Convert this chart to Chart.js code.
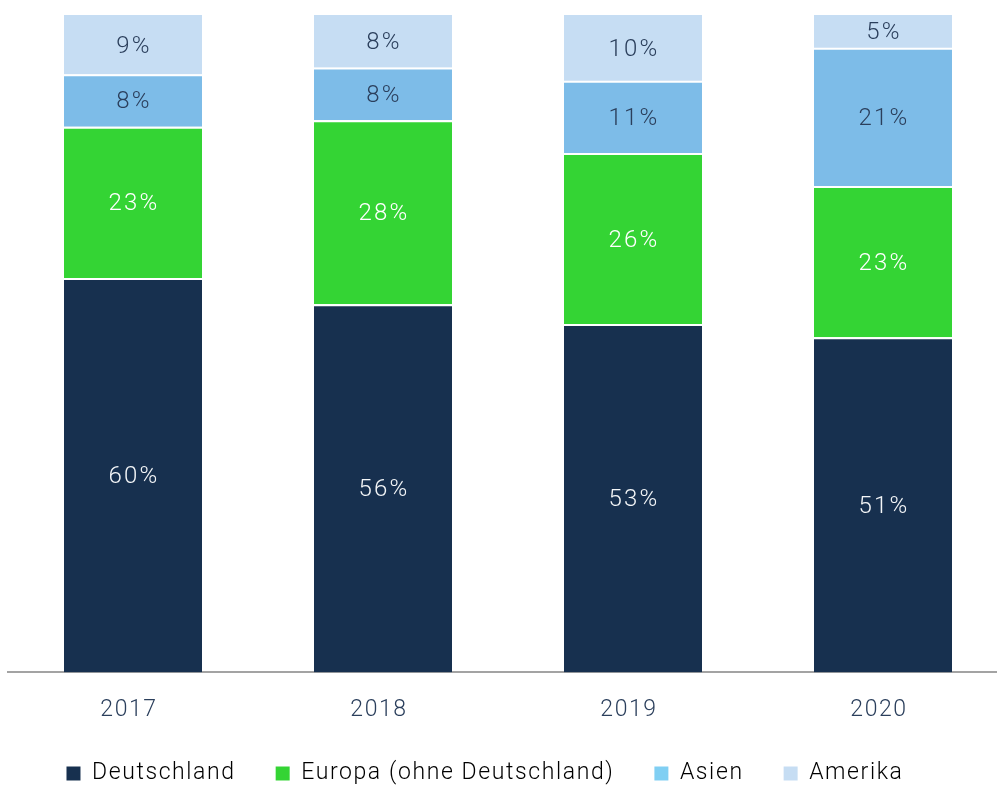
<!DOCTYPE html>
<html>
<head>
<meta charset="utf-8">
<script src="https://cdn.jsdelivr.net/npm/chart.js@4.4.1/dist/chart.umd.min.js"></script>
<style>
  html, body { margin: 0; padding: 0; background: #fff; overflow: hidden; }
  #wrap { width: 1008px; height: 785px; }
</style>
</head>
<body>
<div id="wrap"><canvas id="chart" width="1008" height="785"></canvas></div>
<script>
// data
const years = ['2017', '2018', '2019', '2020'];
const deutschland = [60, 56, 53, 51];
const europa = [23, 28, 26, 23];
const asien = [8, 8, 11, 21];
const amerika = [9, 8, 10, 5];

const seriesNames = ['Deutschland', 'Europa (ohne Deutschland)', 'Asien', 'Amerika'];
const barColors = ['#17304f', '#34d434', '#7dbce8', '#c6ddf3'];
const legendColors = ['#17304f', '#34d434', '#80cff3', '#c6ddf3'];
const labelColors = ['#f4f6f8', '#ffffff', '#2b3f5c', '#2b3f5c'];

const FONT = "Roboto, 'Liberation Sans', sans-serif";
const textColor = '#2b3f5c';
const SPACING = '1.6px';

// the reference type is a little tracked out
const tracking = {
    id: 'tracking',
    beforeUpdate(chart) { chart.ctx.letterSpacing = SPACING; },
    beforeDraw(chart) { chart.ctx.letterSpacing = SPACING; }
};

// draws the percent values inside each segment
const segmentLabels = {
    id: 'segmentLabels',
    afterDatasetsDraw(chart) {
        const ctx = chart.ctx;
        ctx.save();
        ctx.font = '300 24px ' + FONT;
        ctx.letterSpacing = '2.2px';
        ctx.textAlign = 'center';
        ctx.textBaseline = 'middle';
        chart.data.datasets.forEach((ds, i) => {
            const meta = chart.getDatasetMeta(i);
            ctx.fillStyle = labelColors[i];
            meta.data.forEach((bar, j) => {
                const mid = (bar.y + bar.base) / 2 + 2;
                ctx.fillText(ds.data[j] + '%', bar.x + 1, mid);
            });
        });
        ctx.restore();
    }
};

// move the legend to where the reference has it (bottom kept so nothing is clipped)
const legendShift = {
    id: 'legendShift',
    afterLayout(chart) {
        const lg = chart.legend;
        lg.left -= 23;
        lg.right -= 23;
        lg.top -= 26;
        lg.height = lg.bottom - lg.top;
    }
};

const allSeries = [deutschland, europa, asien, amerika];

new Chart(document.getElementById('chart'), {
    type: 'bar',
    data: {
        labels: years,
        datasets: allSeries.map((vals, i) => ({
            label: seriesNames[i],
            data: vals,
            backgroundColor: barColors[i],
            borderColor: '#ffffff',
            borderWidth: i === 3 ? 0 : { top: 2, bottom: 0, left: 0, right: 0 },
            borderSkipped: false,
            barPercentage: 0.552,
            categoryPercentage: 1
        }))
    },
    options: {
        responsive: false,
        animation: false,
        layout: { padding: { left: 8, right: 0, top: 15, bottom: 0 } },
        scales: {
            x: {
                stacked: true,
                grid: { display: false, drawTicks: false },
                border: { display: true, color: '#a3a3a3', width: 2 },
                ticks: {
                    color: textColor,
                    font: { family: FONT, size: 23, weight: 300 },
                    padding: 24,
                    labelOffset: -4
                }
            },
            y: {
                stacked: true,
                display: false,
                min: 0,
                max: 100
            }
        },
        plugins: {
            tooltip: { enabled: false },
            legend: {
                position: 'bottom',
                maxHeight: 37,
                labels: {
                    boxWidth: 14,
                    boxHeight: 14,
                    padding: 40,
                    color: textColor,
                    font: { family: FONT, size: 23, weight: 300 },
                    generateLabels(chart) {
                        return seriesNames.map((name, i) => ({
                            text: name,
                            fillStyle: legendColors[i],
                            strokeStyle: legendColors[i],
                            lineWidth: 0,
                            datasetIndex: i
                        }));
                    }
                }
            }
        }
    },
    plugins: [tracking, segmentLabels, legendShift]
});
</script>
</body>
</html>
